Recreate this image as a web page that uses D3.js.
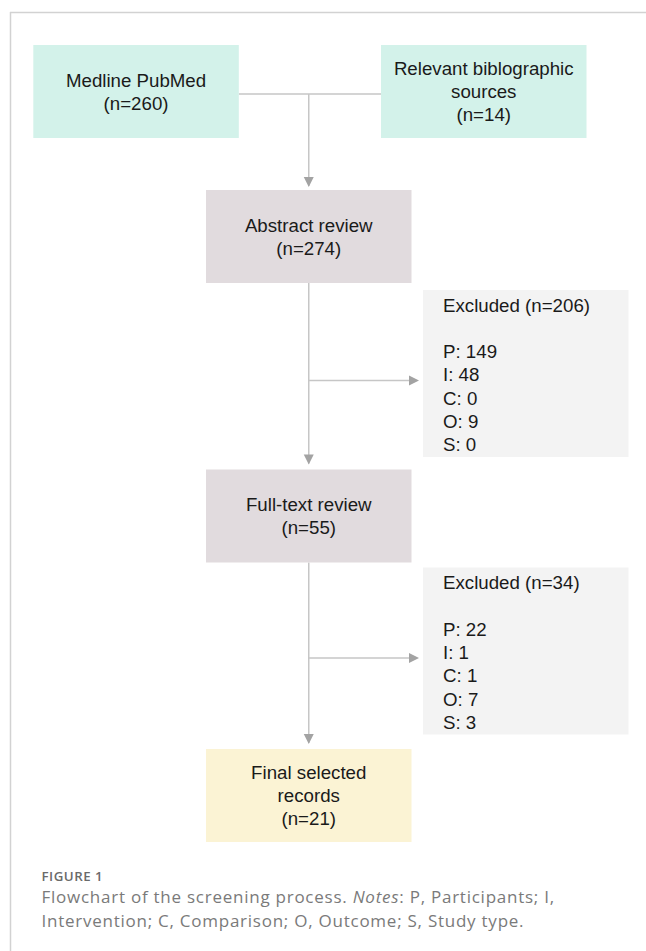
<!DOCTYPE html>
<html>
<head>
<meta charset="utf-8">
<script src="https://cdn.jsdelivr.net/npm/d3@7/dist/d3.min.js"></script>
<style>
  html, body { margin: 0; padding: 0; background: #fff; }
  svg { display: block; }
</style>
</head>
<body>
<svg id="chart" width="646" height="951"></svg>
<script>
// ---------------- data ----------------
const sourceNames = [["Medline PubMed"], ["Relevant biblographic", "sources"]];
const sourceCounts = [260, 14];
const stageNames = [["Abstract review"], ["Full-text review"], ["Final selected", "records"]];
const stageCounts = [274, 55, 21];
const exclusionTotals = [206, 34];
const exclusionCategories = ["P", "I", "C", "O", "S"];
const exclusionCounts = [
  [149, 48, 0, 9, 0],
  [22, 1, 1, 7, 3]
];
const captionLabel = "FIGURE 1";
const captionLine1 = [["Flowchart of the screening process. ", false], ["Notes", true], [": P, Participants; I,", false]];
const captionLine2 = [["Intervention; C, Comparison; O, Outcome; S, Study type.", false]];

// ---------------- layout ----------------
const W = 646, H = 951;
const boxW = 205.5, boxH = 93;
const lineH = 23.3, capH = 13.3;
const colors = {
  source: "#d3f2ea",
  stage: "#e1dbde",
  final: "#fbf3d4",
  excl: "#f3f3f3",
  line: "#c6c6c6",
  head: "#a3a3a3",
  frame: "#d2d2d2",
  text: "#1a1a1a",
  caption: "#7a7a7a"
};

const svg = d3.select("#chart");

// columns
const xSource = d3.scalePoint().domain(d3.range(sourceNames.length)).range([33.3 + boxW / 2, 381 + boxW / 2]);
const xMain = 206 + boxW / 2;
const xExcl = 423;
// rows
const yStage = d3.scalePoint().domain(d3.range(stageNames.length)).range([190, 749]);
const ySource = 45;

// frame
svg.append("line").attr("x1", 10).attr("x2", W).attr("y1", 12.5).attr("y2", 12.5)
  .attr("stroke", colors.frame).attr("stroke-width", 1.5);
svg.append("line").attr("x1", 10.5).attr("x2", 10.5).attr("y1", 12).attr("y2", H)
  .attr("stroke", colors.frame).attr("stroke-width", 1.5);

function arrowHead(g, x, y, dir) {
  const s = 5, L = 10;
  let p;
  if (dir === "down") p = [[x, y], [x - s, y - L], [x + s, y - L]];
  else p = [[x, y], [x - L, y - s], [x - L, y + s]];
  g.append("path").attr("d", d3.line()(p) + "Z").attr("fill", colors.head);
}

function multiLine(g, lines, cx, cy, anchor) {
  const n = lines.length;
  const y0 = cy - (n - 1) * lineH / 2 + capH / 2;
  const t = g.append("text")
    .attr("font-family", "'Liberation Sans', Arial, sans-serif")
    .attr("font-size", 18.7)
    .attr("fill", colors.text)
    .attr("text-anchor", anchor || "middle");
  lines.forEach((l, i) => {
    t.append("tspan").attr("x", cx).attr("y", y0 + i * lineH).text(l);
  });
}

const links = svg.append("g");
const boxes = svg.append("g");

// source boxes
sourceNames.forEach((nm, i) => {
  const cx = xSource(i);
  boxes.append("rect").attr("x", cx - boxW / 2).attr("y", ySource).attr("width", boxW).attr("height", boxH)
    .attr("fill", colors.source);
  multiLine(boxes, nm.concat([`(n=${sourceCounts[i]})`]), cx, ySource + boxH / 2);
});

// connector between sources
const yJoin = ySource + boxH / 2 + 2.5;
links.append("line")
  .attr("x1", xSource(0) + boxW / 2).attr("x2", xSource(1) - boxW / 2)
  .attr("y1", yJoin).attr("y2", yJoin)
  .attr("stroke", colors.line).attr("stroke-width", 1.5);
links.append("line")
  .attr("x1", xMain).attr("x2", xMain).attr("y1", yJoin).attr("y2", yStage(0) - 4)
  .attr("stroke", colors.line).attr("stroke-width", 1.5);
arrowHead(links, xMain, yStage(0) - 3, "down");

// stage boxes
stageNames.forEach((nm, i) => {
  const y = yStage(i);
  boxes.append("rect").attr("x", xMain - boxW / 2).attr("y", y).attr("width", boxW).attr("height", boxH)
    .attr("fill", i === stageNames.length - 1 ? colors.final : colors.stage);
  multiLine(boxes, nm.concat([`(n=${stageCounts[i]})`]), xMain, y + boxH / 2);
});

// vertical links between stages + exclusions
exclusionTotals.forEach((tot, i) => {
  const yTop = yStage(i) + boxH;
  const yNext = yStage(i + 1);
  links.append("line")
    .attr("x1", xMain).attr("x2", xMain).attr("y1", yTop).attr("y2", yNext - 6)
    .attr("stroke", colors.line).attr("stroke-width", 1.5);
  arrowHead(links, xMain, yNext - 5, "down");

  const exTop = yStage(i) + 100 - i * 2;
  const exH = 167;
  boxes.append("rect").attr("x", xExcl).attr("y", exTop).attr("width", boxW).attr("height", exH)
    .attr("fill", colors.excl);
  const lines = [`Excluded (n=${tot})`, ""].concat(exclusionCategories.map((c, k) => `${c}: ${exclusionCounts[i][k]}`));
  const t = boxes.append("text")
    .attr("font-family", "'Liberation Sans', Arial, sans-serif")
    .attr("font-size", 18.7)
    .attr("fill", colors.text);
  const base = exTop + 21.5;
  lines.forEach((l, k) => {
    t.append("tspan").attr("x", xExcl + 20).attr("y", base + k * lineH).text(l);
  });
  const yBranch = base + 3 * lineH - 1;
  links.append("line")
    .attr("x1", xMain).attr("x2", xExcl - 9).attr("y1", yBranch).attr("y2", yBranch)
    .attr("stroke", colors.line).attr("stroke-width", 1.5);
  arrowHead(links, xExcl - 4, yBranch, "right");
});

// caption
svg.append("text")
  .attr("x", 41.5).attr("y", 881)
  .attr("font-family", "'Open Sans', Lato, sans-serif")
  .attr("font-weight", 600)
  .attr("font-size", 13.3)
  .attr("letter-spacing", 0.5)
  .attr("fill", "#6a6a6a")
  .text(captionLabel);

function captionLine(parts, y) {
  const t = svg.append("text")
    .attr("x", 41.5).attr("y", y)
    .attr("font-family", "'Open Sans', Lato, sans-serif")
    .attr("font-weight", 400)
    .attr("font-size", 17)
    .attr("letter-spacing", 0.75)
    .attr("fill", colors.caption);
  parts.forEach(([s, it]) => {
    t.append("tspan").attr("font-style", it ? "italic" : "normal").text(s);
  });
  return t;
}
captionLine(captionLine1, 902.5);
captionLine(captionLine2, 926.5);
</script>
</body>
</html>
